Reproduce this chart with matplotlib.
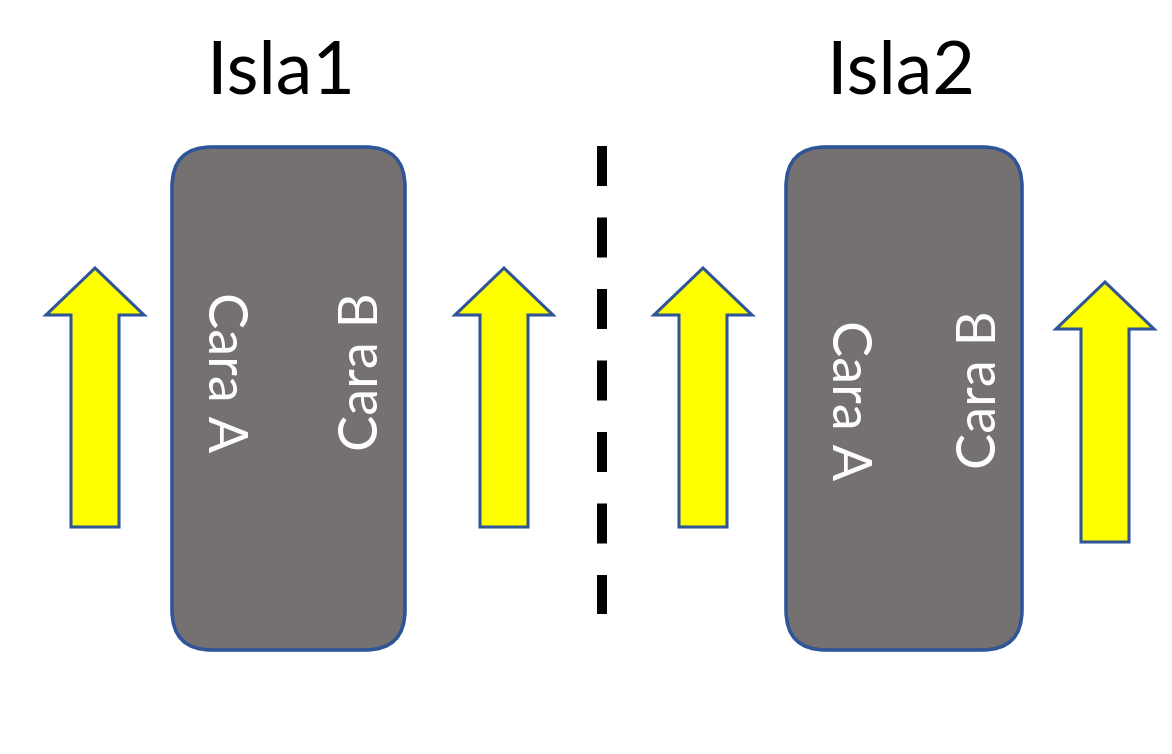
import matplotlib.pyplot as plt
from matplotlib.patches import FancyBboxPatch, Polygon

# Diagram data (pixel units, y grows downwards)
islands = ['Isla1', 'Isla2']
title_x = [281, 901]
title_y = 73
box_left = [172, 786]
box_right = [405, 1022]
box_top = 147
box_bottom = 650
face_a_x = [224, 848]
face_b_x = [362, 980]
face_a_y = [372, 400]
face_b_y = [372, 390]

# arrows: shaft centre x, tip y, bottom y
arrow_x = [95, 504, 703, 1105]
arrow_tip = [268, 268, 268, 282]
arrow_bottom = [527, 527, 527, 542]
shaft_half = 24
head_half = 49
head_len = 47

divider_x = 602
divider_y = [146, 614]

plt.rcParams['font.family'] = ['Lato', 'DejaVu Sans']

fig = plt.figure(figsize=(11.72, 7.54), dpi=100)
ax = fig.add_axes([0, 0, 1, 1])
ax.set_xlim(0, 1172)
ax.set_ylim(754, 0)
ax.axis('off')

edge = '#2F5597'

for i, name in enumerate(islands):
    w = box_right[i] - box_left[i]
    h = box_bottom - box_top
    box = FancyBboxPatch((box_left[i], box_top), w, h,
                         boxstyle='round,pad=0,rounding_size=40',
                         facecolor='#767171', edgecolor=edge, linewidth=2.6)
    ax.add_patch(box)
    ax.text(title_x[i], title_y, name, fontsize=53, ha='center', va='center')
    ax.text(face_a_x[i], face_a_y[i], 'Cara A', color='white', fontsize=39,
            rotation=-90, ha='center', va='center')
    ax.text(face_b_x[i], face_b_y[i], 'Cara B', color='white', fontsize=39,
            rotation=90, ha='center', va='center')

for x, tip, bot in zip(arrow_x, arrow_tip, arrow_bottom):
    base = tip + head_len
    pts = [(x - shaft_half, bot), (x - shaft_half, base), (x - head_half, base),
           (x, tip), (x + head_half, base), (x + shaft_half, base),
           (x + shaft_half, bot)]
    ax.add_patch(Polygon(pts, closed=True, facecolor='#FFFF00',
                         edgecolor=edge, linewidth=2.2, joinstyle='miter'))

ax.plot([divider_x, divider_x], divider_y, color='black', linewidth=7.2,
        dashes=(40 / 10, 31.5 / 10), solid_capstyle='butt', dash_capstyle='butt')

fig.savefig('out.png', dpi=100)
